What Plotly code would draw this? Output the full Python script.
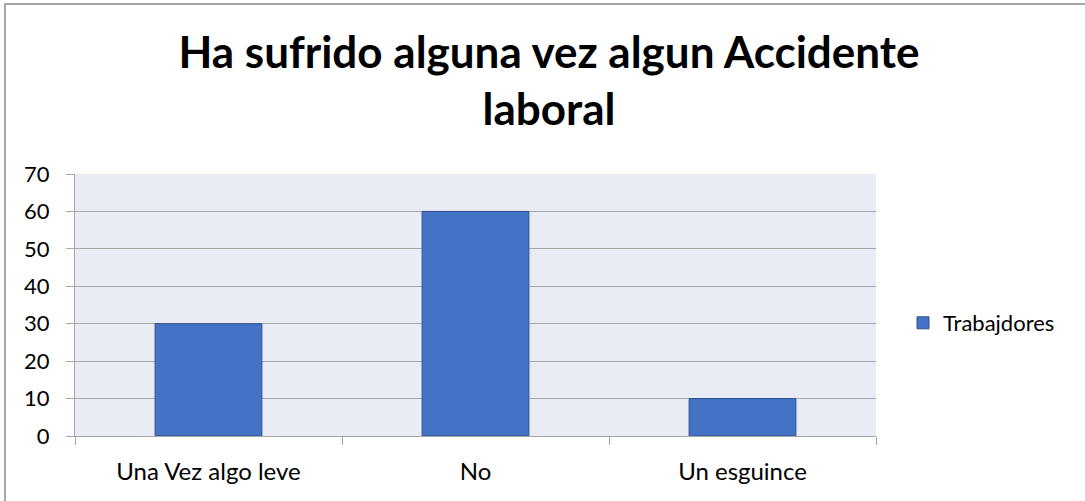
import plotly.graph_objects as go

categories = ["Una Vez algo leve", "No", "Un esguince"]
values = [30, 60, 10]
series_name = "Trabajdores"
title_text = "Ha sufrido alguna vez algun Accidente<br>laboral"
y_ticks = [0, 10, 20, 30, 40, 50, 60, 70]

W, H = 1085, 501
L, R, T, B = 75, 209, 174, 65
pw, ph = W - L - R, H - T - B

fig = go.Figure()
fig.add_trace(go.Bar(
    x=categories, y=values, name=series_name,
    marker=dict(color="#4472C4", line=dict(color="#2F528F", width=1)),
    width=0.4, showlegend=True,
))

font_family = "Lato, 'Open Sans', sans-serif"
fig.update_layout(
    width=W, height=H,
    margin=dict(l=L, r=R, t=T, b=B, autoexpand=False),
    paper_bgcolor="white",
    plot_bgcolor="#E9EBF5",
    font=dict(family=font_family, size=22, color="#000000"),
    title=dict(text="<b>" + title_text + "</b>", x=0.506, xanchor="center",
               y=1 - 68 / H, yanchor="middle",
               font=dict(family=font_family, size=44, color="#000000")),
    showlegend=True,
    legend=dict(x=(903 - L) / pw, y=1 - (323 - T) / ph, xref="paper", yref="paper",
                xanchor="left", yanchor="middle",
                font=dict(size=22), itemwidth=30, bgcolor="rgba(0,0,0,0)"),
    bargap=0.6,
)
fig.update_xaxes(
    showgrid=False, showline=True, linecolor="#A6A6A6", linewidth=1,
    ticks="outside", ticklen=8, tickcolor="#A6A6A6", tickson="boundaries",
    tickfont=dict(size=24), mirror=False, zeroline=False, ticklabelstandoff=14,
)
fig.update_yaxes(
    range=[0, 70], tickvals=y_ticks, showgrid=True, gridcolor="#A6A6A6", gridwidth=1,
    showline=True, linecolor="#A6A6A6", linewidth=1,
    ticks="outside", ticklen=8, tickcolor="#A6A6A6",
    tickfont=dict(size=22), zeroline=False, ticklabelstandoff=12,
)
# outer border
fig.add_shape(type="rect", xref="paper", yref="paper",
              x0=(5 - L) / pw, x1=(W + 5 - L) / pw,
              y0=1 - (H + 5 - T) / ph, y1=1 - (4 - T) / ph,
              line=dict(color="#A6A6A6", width=2), fillcolor="rgba(0,0,0,0)", layer="below")

fig.write_html("out.html", config={"displayModeBar": False},
               post_script="document.body.style.margin='0';")
